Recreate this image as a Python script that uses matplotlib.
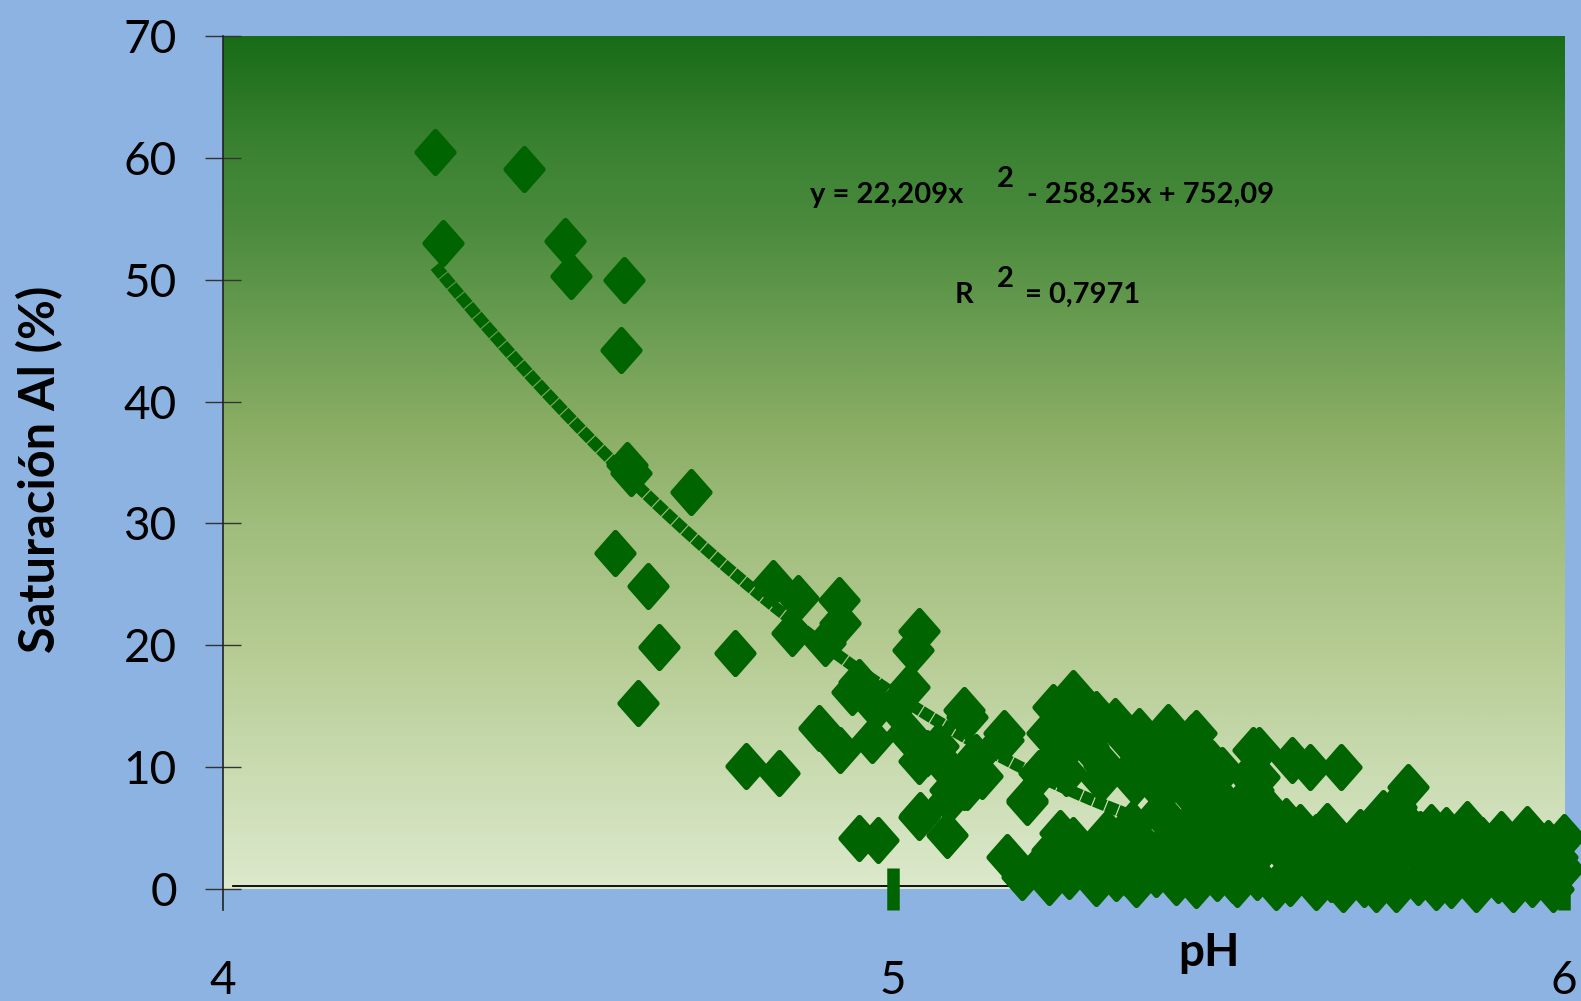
import numpy as np
import matplotlib.pyplot as plt
from matplotlib.colors import LinearSegmentedColormap
from matplotlib.markers import MarkerStyle
from matplotlib.path import Path

plt.rcParams['font.family'] = ['Lato', 'DejaVu Sans']

# pH vs saturación de aluminio (%)
ph = [
    4.317, 4.449, 4.328, 4.510, 4.519, 4.598, 4.594, 4.609, 4.603, 4.698,
    4.585, 4.634, 4.650, 4.619, 4.764, 4.780, 4.829,
    4.820, 4.858, 4.919, 4.849, 4.898, 4.920, 4.949, 4.890, 4.920, 4.969,
    4.938, 4.975, 5.003, 5.024, 5.038, 5.029, 5.020, 5.050, 5.039, 5.110,
    5.124, 5.084, 5.066, 5.084, 5.133, 5.163, 5.110, 4.949, 4.977, 5.040,
    5.080, 5.105, 5.165, 5.105, 5.083, 5.038,
    5.268, 5.238, 5.303, 5.229, 5.254, 5.291, 5.348, 5.367, 5.397, 5.446,
    5.452, 5.476, 5.401, 5.314, 5.258, 5.218, 5.199, 5.199, 5.169, 5.218,
    5.268, 5.248, 5.293, 5.348, 5.288, 5.318, 5.377, 5.407, 5.397,
    5.351, 5.442, 5.321, 5.412, 5.366, 5.457, 5.446, 5.506, 5.497, 5.536,
    5.536, 5.546, 5.595, 5.621, 5.668, 5.767, 5.434, 5.452, 5.487, 5.531,
    5.546, 5.400, 5.516, 5.561, 5.566, 5.607, 5.611, 5.631, 5.668, 5.432,
    5.506, 5.546, 5.607, 5.667, 5.606, 5.690, 5.506, 5.571, 5.631, 5.670,
    5.720, 5.750, 5.217, 5.347,
    5.730, 5.755, 5.757, 5.726, 5.750, 5.773, 5.802, 5.824, 5.832, 5.878,
    5.948, 5.945, 6.000, 5.933, 5.998, 5.795, 5.849, 5.894, 5.685, 5.635,
    5.810, 5.869, 5.924, 5.983, 5.990,
    5.280, 5.330, 5.310, 5.350, 5.410, 5.430, 5.460, 5.490, 5.240, 5.300,
    5.375, 5.410, 5.360, 5.400, 5.470,
    5.192, 5.232, 5.262, 5.302, 5.332, 5.362, 5.392, 5.422, 5.452, 5.482,
    5.512, 5.542, 5.592, 5.652, 5.702, 5.732, 5.782, 5.832, 5.902, 5.952,
    5.236, 5.276, 5.306, 5.336, 5.396, 5.426, 5.466, 5.526, 5.576, 5.626,
    5.706, 5.746, 5.786, 5.826, 5.866, 5.916, 5.966,
    5.356, 5.436, 5.466, 5.536, 5.586, 5.646, 5.696, 5.786, 5.856,
    5.906, 5.976,
]
sat_al = [
    60.5, 59.1, 53.0, 53.2, 50.3, 50.0, 44.2, 34.1, 34.8, 32.6,
    27.6, 24.9, 19.9, 15.3, 19.4, 10.1, 9.5,
    25.1, 23.9, 23.7, 21.0, 20.2, 21.8, 17.0, 13.2, 11.4, 12.2,
    16.2, 14.9, 15.0, 16.6, 21.2, 19.6, 12.8, 11.2, 10.5, 14.1,
    10.8, 8.1, 11.7, 9.7, 9.3, 12.2, 8.4, 4.2, 4.0, 6.1,
    4.4, 14.7, 12.8, 8.4, 7.3, 5.9,
    16.1, 14.9, 14.4, 12.8, 11.3, 11.7, 12.2, 13.0, 11.4, 12.5,
    12.8, 10.3, 11.6, 10.1, 9.5, 9.5, 7.3, 7.1, 2.6, 1.6,
    4.0, 4.6, 1.8, 1.8, 1.8, 4.6, 3.4, 5.7, 6.3,
    4.3, 3.4, 1.8, 1.8, 1.0, 1.0, 1.3, 1.3, 5.1, 8.1,
    11.4, 11.4, 10.6, 10.0, 10.0, 8.4, 8.4, 7.5, 7.5, 9.3,
    9.2, 6.2, 5.9, 6.3, 5.7, 5.1, 4.6, 4.3, 3.4, 3.4,
    3.0, 3.0, 2.2, 2.2, 1.8, 1.8, 0.7, 0.2, 0.2, 0.0,
    0.0, 0.0, 1.8, 1.3,
    6.2, 5.7, 5.9, 5.1, 6.7, 3.4, 5.1, 4.8, 3.4, 4.0,
    4.6, 4.9, 4.3, 2.1, 1.6, 2.4, 1.8, 1.8, 2.4, 3.0,
    0.2, 0.0, 0.0, 0.0, 2.6,
    13.5, 13.8, 9.0, 9.5, 9.2, 10.8, 8.9, 9.8, 10.6, 12.9,
    10.3, 13.3, 8.8, 8.0, 9.0,
    1.0, 0.6, 1.1, 0.5, 0.9, 0.4, 1.2, 0.6, 0.3, 0.9,
    0.4, 1.0, 0.5, 0.8, 0.4, 1.0, 0.6, 0.3, 0.7, 0.4,
    3.2, 2.8, 3.5, 2.6, 3.1, 2.5, 3.3, 2.7, 3.4, 2.7,
    3.1, 2.6, 3.0, 2.3, 2.9, 3.2, 2.9,
    5.3, 5.0, 6.0, 4.6, 5.6, 5.2, 4.7, 4.5, 5.3,
    4.5, 3.8,
]

# línea de tendencia polinómica (orden 2)
coef = [22.209, -258.25, 752.09]
r2 = '0,7971'

y_ticks = [0, 10, 20, 30, 40, 50, 60, 70]
x_ticks = [4, 5, 6]

green = '#006400'

fig = plt.figure(figsize=(15.81, 10.01), dpi=100)
fig.patch.set_facecolor('#8db3e2')
ax = fig.add_axes([0.1408, 0.1119, 0.8484, 0.8521])
ax.set_xlim(4, 6)
ax.set_ylim(0, 70)

# fondo degradado del área de trazado
stops = [(0.0, '#dce9cc'), (10 / 70, '#c9dbb0'), (20 / 70, '#b5cb92'),
         (30 / 70, '#9fbd7c'), (38 / 70, '#8aad64'), (46 / 70, '#6a9d52'),
         (55 / 70, '#4a8a3c'), (61 / 70, '#3a8232'), (1.0, '#186c18')]
cmap = LinearSegmentedColormap.from_list('fondo', stops)
grad = np.linspace(1, 0, 512).reshape(-1, 1)
ax.imshow(grad, cmap=cmap, extent=[4, 6, 0, 70], aspect='auto', zorder=0,
          vmin=0, vmax=1)

# tendencia
xt = np.linspace(min(ph), max(ph), 300)
yt = np.polyval(coef, xt)
ax.plot(xt, yt, color=green, lw=8.5, dashes=(1, 0.1), solid_capstyle='butt',
        dash_capstyle='butt', zorder=2)

# puntos en forma de rombo
rombo = Path([(0, 1), (0.88, 0), (0, -1), (-0.88, 0), (0, 1)],
             [Path.MOVETO, Path.LINETO, Path.LINETO, Path.LINETO, Path.CLOSEPOLY])
ax.plot(ph, sat_al, linestyle='none',
        marker=MarkerStyle(rombo, joinstyle='round'),
        markersize=30, markerfacecolor=green, markeredgecolor=green,
        markeredgewidth=4, zorder=3, clip_on=False)

ax.axhline(0.25, xmin=0.008, color='black', lw=1.3, zorder=1)

for s in ['top', 'right', 'bottom']:
    ax.spines[s].set_visible(False)
ax.spines['left'].set_bounds(-1.75, 70)
ax.spines['left'].set_color('#222222')
ax.spines['left'].set_linewidth(1.2)

ax.set_yticks(y_ticks)
ax.set_yticklabels([str(v) for v in y_ticks])
ax.tick_params(axis='y', direction='inout', length=26, width=1,
               color='#333333', labelsize=33, pad=20)

ax.set_xticks(x_ticks)
ax.set_xticklabels([str(v) for v in x_ticks])
ax.tick_params(axis='x', direction='inout', length=30, width=9,
               color=green, labelsize=33, pad=36)
ax.xaxis.get_major_ticks()[0].tick1line.set_visible(False)

fig.text(0.0253, 0.531, 'Saturación Al (%)', rotation=90, fontsize=35,
         fontweight='bold', ha='center', va='center')
fig.text(0.7647, 0.048, 'pH', fontsize=33, fontweight='bold',
         ha='center', va='center')

# ecuación de la tendencia
a, b, c = coef
eq_kw = dict(fontsize=21, fontweight='bold', ha='left', va='baseline')
fig.text(0.5123, 0.797, 'y = ' + f'{a:.3f}'.replace('.', ',') + 'x', **eq_kw)
fig.text(0.6306, 0.8132, '2', **eq_kw)
fig.text(0.6496, 0.797, '- ' + f'{-b:.2f}'.replace('.', ',') + 'x + '
         + f'{c:.2f}'.replace('.', ','), **eq_kw)
fig.text(0.604, 0.6973, 'R', **eq_kw)
fig.text(0.6306, 0.7133, '2', **eq_kw)
fig.text(0.6483, 0.6973, '= ' + r2, **eq_kw)

fig.savefig('out.png', dpi=100, facecolor=fig.get_facecolor())
